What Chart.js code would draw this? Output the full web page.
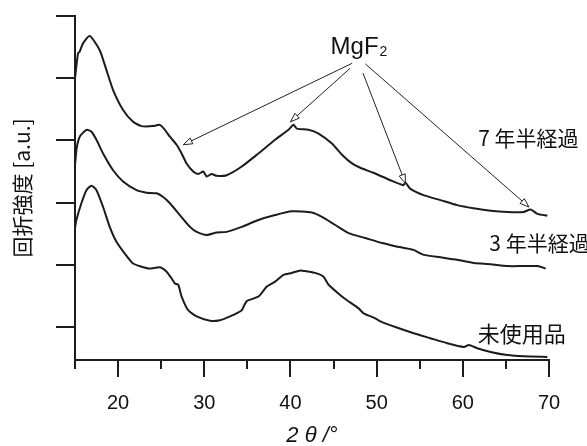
<!DOCTYPE html>
<html>
<head>
<meta charset="utf-8">
<script src="https://cdn.jsdelivr.net/npm/chart.js@4"></script>
<style>
  html, body { margin: 0; padding: 0; background: #fff; }
  #wrap { width: 587px; height: 446px; }
</style>
</head>
<body>
<div id="wrap"><canvas id="xrd"></canvas></div>
<script>
// 2θ (deg) and intensity (a.u.)
const theta7 = [15.0, 15.35, 15.55, 15.93, 16.71, 17.87, 18.65, 19.42, 20.58, 21.74, 22.72, 24.07, 24.85, 25.43, 26.01, 26.79, 27.37, 27.95, 28.72, 29.30, 29.88, 30.28, 30.86, 31.44, 32.60, 34.35, 36.28, 38.22, 39.77, 40.35, 40.74, 42.09, 43.26, 44.81, 45.98, 47.14, 48.10, 49.62, 51.59, 53.10, 53.34, 53.92, 55.43, 57.41, 59.35, 61.24, 63.22, 65.16, 67.06, 67.87, 68.65, 69.81];
const int7 = [4.00, 4.40, 4.43, 4.56, 4.68, 4.45, 4.13, 3.81, 3.49, 3.30, 3.23, 3.23, 3.25, 3.17, 3.06, 2.93, 2.79, 2.63, 2.50, 2.46, 2.50, 2.42, 2.46, 2.43, 2.44, 2.58, 2.79, 3.01, 3.17, 3.25, 3.19, 3.17, 3.11, 2.95, 2.77, 2.63, 2.56, 2.48, 2.36, 2.28, 2.32, 2.22, 2.12, 2.04, 1.96, 1.91, 1.87, 1.85, 1.85, 1.89, 1.82, 1.79];

const theta3 = [15.0, 15.2, 15.55, 16.33, 16.91, 17.49, 18.26, 19.42, 20.58, 22.14, 23.30, 24.47, 25.23, 26.01, 27.17, 28.34, 29.12, 30.28, 31.44, 32.60, 34.35, 36.28, 38.22, 40.16, 42.49, 43.65, 45.20, 46.74, 48.69, 50.63, 52.17, 54.27, 55.47, 57.41, 59.35, 61.28, 63.22, 65.16, 67.09, 68.65, 69.62];
const int3 = [2.60, 2.88, 3.06, 3.17, 3.14, 3.01, 2.79, 2.52, 2.34, 2.20, 2.16, 2.15, 2.09, 1.99, 1.80, 1.61, 1.53, 1.48, 1.52, 1.53, 1.61, 1.72, 1.80, 1.86, 1.84, 1.77, 1.64, 1.51, 1.43, 1.35, 1.30, 1.24, 1.16, 1.12, 1.08, 1.03, 1.01, 0.98, 0.98, 0.98, 0.94];

const thetaNew = [15.0, 15.16, 15.74, 16.33, 16.91, 17.49, 18.26, 19.03, 19.81, 20.78, 21.74, 22.72, 23.69, 24.85, 25.63, 26.21, 26.59, 26.98, 27.37, 28.14, 29.12, 30.66, 31.83, 32.99, 34.35, 34.6, 34.97, 36.28, 37.26, 38.22, 39.19, 40.16, 41.13, 41.71, 42.87, 43.84, 44.42, 45.98, 46.56, 47.91, 48.49, 49.85, 50.43, 52.17, 54.30, 56.24, 58.19, 60.12, 60.70, 61.67, 63.22, 65.16, 67.09, 69.81];
const intNew = [1.59, 1.72, 1.99, 2.20, 2.27, 2.20, 1.93, 1.61, 1.37, 1.18, 1.02, 0.97, 0.94, 0.96, 0.89, 0.78, 0.70, 0.68, 0.49, 0.27, 0.17, 0.10, 0.11, 0.17, 0.27, 0.34, 0.42, 0.49, 0.65, 0.73, 0.84, 0.87, 0.91, 0.90, 0.87, 0.81, 0.68, 0.49, 0.43, 0.30, 0.22, 0.14, 0.09, 0.00, -0.10, -0.18, -0.26, -0.32, -0.29, -0.34, -0.40, -0.45, -0.47, -0.48];

const seriesNames = ['7 年半経過', '3 年半経過', '未使用品'];
const xTicks = [15, 20, 25, 30, 35, 40, 45, 50, 55, 60, 65, 70];
const yTicks = [0, 1, 2, 3, 4, 5];

// MgF2 peaks marked on the 7.5-year pattern
const mgf2Theta = [27.57, 40.0, 53.34, 67.67];
const mgf2Int = [2.93, 3.30, 2.31, 1.93];

const LATIN = '"Liberation Sans", Arial, sans-serif';
const JP = '"Noto Sans CJK JP", "Liberation Sans", sans-serif';
const INK = '#1c1c1c';

function pts(xs, ys) {
  return xs.map((x, i) => ({ x: x, y: ys[i] }));
}

const annotate = {
  id: 'annotate',
  afterDraw(chart) {
    const ctx = chart.ctx;
    const xs = chart.scales.x, ys = chart.scales.y;
    const area = chart.chartArea;
    const px = v => xs.getPixelForValue(v);
    const py = v => ys.getPixelForValue(v);
    ctx.save();

    // x tick marks, long at labelled values
    ctx.strokeStyle = INK;
    ctx.lineWidth = 2;
    xTicks.forEach(v => {
      const x = Math.round(px(v));
      ctx.beginPath();
      ctx.moveTo(x, area.bottom);
      ctx.lineTo(x, area.bottom + (v % 10 === 0 ? 17 : 9));
      ctx.stroke();
    });

    // series labels
    ctx.fillStyle = '#111';
    ctx.textAlign = 'center';
    ctx.textBaseline = 'middle';
    ctx.font = '21px ' + JP;
    ctx.fillText(seriesNames[0], px(67.6), py(3.04));
    ctx.fillText(seriesNames[1], px(68.9), py(1.35));
    ctx.font = '22px ' + JP;
    ctx.fillText(seriesNames[2], px(66.85), py(-0.11));

    // MgF2 label
    const lx = px(47.9) - 4, ly = py(4.49);
    ctx.font = '24px ' + LATIN;
    ctx.textAlign = 'center';
    ctx.fillText('MgF', lx, ly);
    const w = ctx.measureText('MgF').width;
    ctx.font = '14px ' + LATIN;
    ctx.textAlign = 'left';
    ctx.fillText('2', lx + w / 2 + 1, ly + 4);

    // arrows from label to the peaks
    const starts = [[47.16, 4.24], [46.93, 4.16], [48.42, 4.08], [48.69, 4.23]];
    ctx.lineWidth = 1;
    ctx.strokeStyle = '#222';
    mgf2Theta.forEach((t, i) => {
      const x0 = px(starts[i][0]), y0 = py(starts[i][1]);
      const x1 = px(t), y1 = py(mgf2Int[i]);
      const a = Math.atan2(y1 - y0, x1 - x0);
      ctx.beginPath();
      ctx.moveTo(x0, y0);
      ctx.lineTo(x1, y1);
      ctx.stroke();
      const L = 9, H = 3.2;
      ctx.beginPath();
      ctx.moveTo(x1, y1);
      ctx.lineTo(x1 - L * Math.cos(a) + H * Math.sin(a), y1 - L * Math.sin(a) - H * Math.cos(a));
      ctx.lineTo(x1 - L * Math.cos(a) - H * Math.sin(a), y1 - L * Math.sin(a) + H * Math.cos(a));
      ctx.closePath();
      ctx.fillStyle = '#fff';
      ctx.fill();
      ctx.stroke();
    });
    ctx.restore();
  }
};

const lineStyle = {
  borderColor: INK,
  borderWidth: 2,
  pointRadius: 0,
  tension: 0.2,
  fill: false
};

new Chart(document.getElementById('xrd'), {
  type: 'line',
  data: {
    datasets: [
      Object.assign({ label: seriesNames[0], data: pts(theta7, int7) }, lineStyle),
      Object.assign({ label: seriesNames[1], data: pts(theta3, int3) }, lineStyle),
      Object.assign({ label: seriesNames[2], data: pts(thetaNew, intNew) }, lineStyle)
    ]
  },
  options: {
    responsive: true,
    maintainAspectRatio: false,
    animation: false,
    layout: { padding: { top: 16, right: 38, left: 0, bottom: 0 } },
    plugins: {
      legend: { display: false },
      tooltip: { enabled: false }
    },
    scales: {
      x: {
        type: 'linear',
        min: 15,
        max: 70,
        afterBuildTicks: s => { s.ticks = xTicks.map(v => ({ value: v })); },
        afterFit: s => { s.height = 86; s.paddingLeft = 0; s.paddingRight = 0; },
        grid: { display: false, drawTicks: false },
        border: { display: true, color: INK, width: 2 },
        ticks: {
          padding: 31,
          color: '#111',
          font: { family: LATIN, size: 20 },
          maxRotation: 0,
          autoSkip: false,
          callback: v => (v % 10 === 0 ? v : '')
        },
        title: {
          display: true,
          text: '2 θ /°',
          color: '#111',
          font: { family: LATIN, size: 22, style: 'italic', lineHeight: 1.0 },
          padding: { top: 0, bottom: -1 }
        }
      },
      y: {
        type: 'linear',
        min: -0.53,
        max: 5,
        afterBuildTicks: s => { s.ticks = yTicks.map(v => ({ value: v })); },
        afterFit: s => { s.width = 75; s.paddingTop = 0; s.paddingBottom = 0; },
        grid: { drawOnChartArea: false, drawTicks: true, tickLength: 19, color: INK, lineWidth: 2 },
        border: { display: true, color: INK, width: 2 },
        ticks: { display: false },
        title: {
          display: true,
          text: '回折強度 [a.u.]',
          color: '#111',
          font: { family: JP, size: 21 },
          padding: { top: 9, bottom: 0 }
        }
      }
    }
  },
  plugins: [annotate]
});
</script>
</body>
</html>
